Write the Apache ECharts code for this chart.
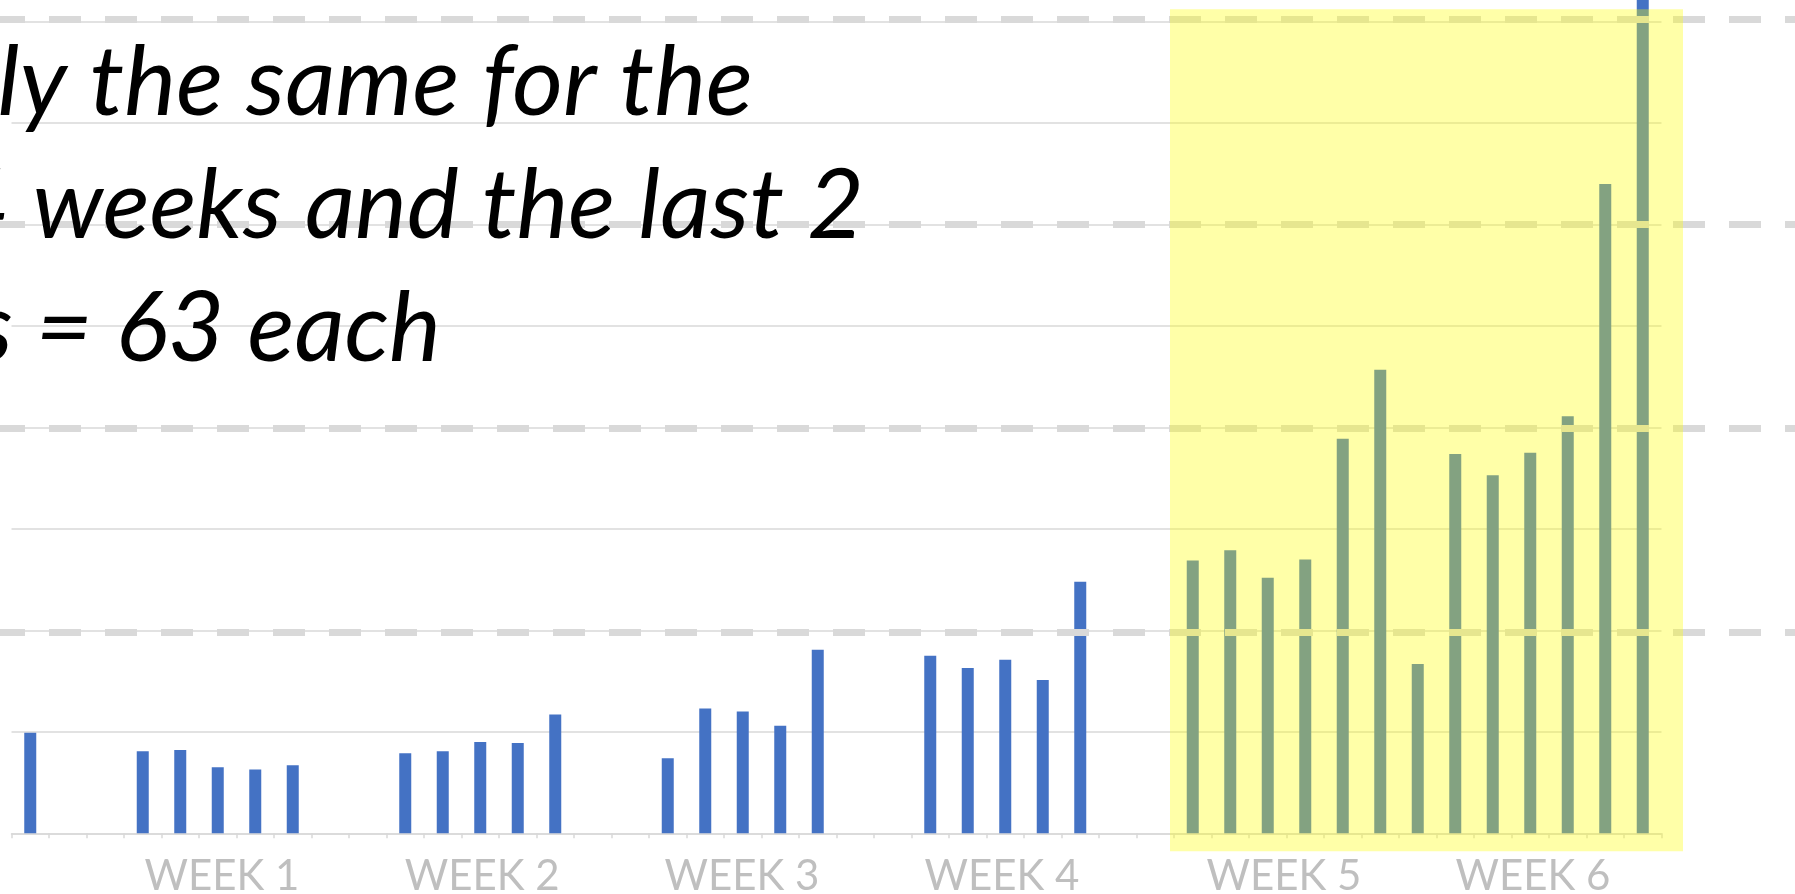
<!DOCTYPE html>
<html>
<head>
<meta charset="utf-8">
<script src="https://cdn.jsdelivr.net/npm/echarts@6/dist/echarts.min.js"></script>
<style>
  html, body { margin: 0; padding: 0; background: #ffffff; }
  #chart { width: 1795px; height: 894px; }
</style>
</head>
<body>
<div id="chart"></div>
<script>
// ---- data ----
const days = [
  'D1','D2','D3','D4','D5','D6','D7','D8','D9','D10','D11',
  'D12','D13','D14','D15','D16','D17','D18','D19','D20','D21','D22',
  'D23','D24','D25','D26','D27','D28','D29','D30','D31','D32','D33',
  'D34','D35','D36','D37','D38','D39','D40','D41','D42','D43','D44'
];
const counts = [
  9.9, null, null, 8.1, 8.2, 6.5, 6.3, 6.7, null, null, 7.9,
  8.1, 9.0, 8.9, 11.7, null, null, 7.4, 12.3, 12.0, 10.6, 18.1,
  null, null, 17.5, 16.3, 17.1, 15.1, 24.8, null, null, 26.9, 27.9,
  25.2, 27.0, 38.9, 45.7, 16.7, 37.4, 35.3, 37.5, 41.1, 64.0, 86.0
];
const weekLabels = ['WEEK 1', 'WEEK 2', 'WEEK 3', 'WEEK 4', 'WEEK 5', 'WEEK 6'];
const weekLabelPos = [5.61, 12.55, 19.48, 26.41, 33.93, 40.57];
const noteLines = ['ly the same for the', '4 weeks and the last 2', 's = 63 each'];

// ---- chart ----
const chart = echarts.init(document.getElementById('chart'), null, { renderer: 'canvas' });

const gridColor = '#d9d9d9';
const textFont = 'italic 98px Lato, "Open Sans", sans-serif';
const noteRight = [753, 864, 441];
const noteMid = [83.6, 206.8, 329.2];

const option = {
  animation: false,
  backgroundColor: '#ffffff',
  grid: [
    { left: 11.5, width: 1650, top: -79.75, height: 913.05, outerBoundsMode: 'none', containLabel: false },
    { left: 0, width: 1795, top: 19.4, height: 817.6, outerBoundsMode: 'none', containLabel: false }
  ],
  xAxis: [
    {
      type: 'category',
      gridIndex: 0,
      data: days,
      boundaryGap: true,
      axisLine: { show: true, lineStyle: { color: gridColor, width: 1.5 } },
      axisTick: { show: true, interval: 0, length: 5, lineStyle: { color: gridColor, width: 1.5 } },
      axisLabel: { show: false },
      splitLine: { show: false }
    },
    {
      type: 'value',
      gridIndex: 0,
      min: 0,
      max: days.length,
      position: 'bottom',
      axisLine: { show: false },
      axisTick: { show: false },
      splitLine: { show: false },
      axisLabel: {
        show: true,
        customValues: weekLabelPos,
        formatter: function (v) {
          const i = weekLabelPos.indexOf(v);
          return i >= 0 ? weekLabels[i] : '';
        },
        color: '#bfbfbf',
        fontFamily: 'Lato, "Open Sans", sans-serif',
        fontSize: 42,
        lineHeight: 42,
        margin: 22,
        verticalAlign: 'top'
      }
    },
    {
      type: 'value',
      gridIndex: 1,
      min: 0,
      max: 1,
      show: false
    }
  ],
  yAxis: [
    {
      type: 'value',
      gridIndex: 0,
      min: 0,
      max: 90,
      interval: 10,
      axisLine: { show: false },
      axisTick: { show: false },
      axisLabel: { show: false },
      splitLine: { show: true, lineStyle: { color: gridColor, width: 1.5 } }
    },
    {
      type: 'value',
      gridIndex: 1,
      min: 0,
      max: 4,
      interval: 1,
      z: 3,
      axisLine: { show: false },
      axisTick: { show: false },
      axisLabel: { show: false },
      splitLine: {
        show: true,
        showMinLine: false,
        lineStyle: { color: gridColor, width: 7, type: [32, 24], dashOffset: 7 }
      }
    }
  ],
  series: [
    {
      type: 'bar',
      xAxisIndex: 0,
      yAxisIndex: 0,
      data: counts,
      barWidth: 12,
      itemStyle: { color: '#4472c4' },
      z: 2
    }
  ],
  graphic: [
    {
      type: 'rect',
      z: 100,
      shape: { x: 1170, y: 9.3, width: 513, height: 842 },
      style: { fill: 'rgba(255,255,0,0.34)' }
    }
  ].concat(noteLines.map(function (t, i) {
    return {
      type: 'text',
      z: 101,
      x: noteRight[i],
      y: noteMid[i],
      style: {
        text: t,
        font: textFont,
        fill: '#000000',
        align: 'right',
        verticalAlign: 'middle'
      }
    };
  }))
};

chart.setOption(option);
</script>
</body>
</html>
